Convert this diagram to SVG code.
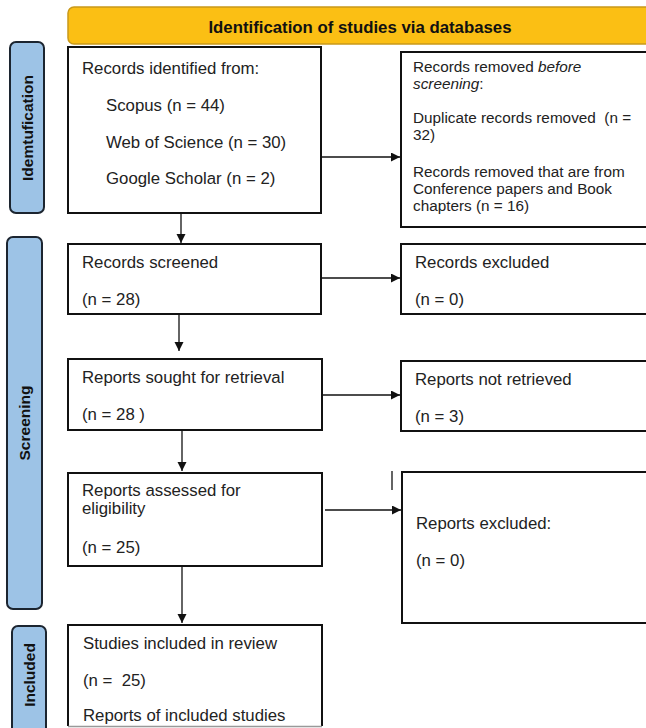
<svg xmlns="http://www.w3.org/2000/svg" width="646" height="728" viewBox="0 0 646 728">
<style>
text{font-family:"Liberation Sans",Arial,sans-serif;fill:#222}
.t{font-size:16.8px}
.s{font-size:15.3px}
.lab{font-size:15.5px;font-weight:bold;fill:#111}
.box{fill:#fff;stroke:#111;stroke-width:2}
.side{fill:#9dc3e6;stroke:#1c2530;stroke-width:2}
.con{stroke:#111;stroke-width:1.3;fill:none}
</style>
<defs>
<marker id="ah" markerUnits="userSpaceOnUse" markerWidth="10" markerHeight="10" refX="9" refY="4.5" orient="auto">
<path d="M0,0 L9,4.5 L0,9 z" fill="#111"/>
</marker>
</defs>
<rect width="646" height="728" fill="#fff"/>
<g id="banner">
<rect x="68" y="7" width="590" height="37" rx="6" fill="#fbbf14" stroke="#c9991a" stroke-width="1.5"/>
<text x="360" y="33" text-anchor="middle" style="font-size:16.8px;font-weight:bold;fill:#111">Identification of studies via databases</text>
</g>
<g id="lab-identification">
<rect class="side" x="10" y="42" width="34" height="171" rx="6"/>
<text class="lab" transform="translate(33,128) rotate(-90)" text-anchor="middle">Idemtufication</text>
</g>
<g id="lab-screening">
<rect class="side" x="7" y="237" width="35" height="372" rx="6"/>
<text class="lab" transform="translate(30,423) rotate(-90)" text-anchor="middle">Screening</text>
</g>
<g id="lab-included">
<rect class="side" x="12" y="626" width="34" height="120" rx="6"/>
<text class="lab" transform="translate(35,675) rotate(-90)" text-anchor="middle">Included</text>
</g>
<g id="n-identified">
<rect class="box" x="68" y="47" width="253" height="166"/>
<text class="t" x="82" y="74">Records identified from:</text>
<text class="t" x="106" y="111">Scopus (n = 44)</text>
<text class="t" x="106" y="148">Web of Science (n = 30)</text>
<text class="t" x="106" y="184">Google Scholar (n = 2)</text>
</g>
<g id="n-removed">
<rect class="box" x="401" y="52" width="260" height="175"/>
<text class="s" x="413" y="72">Records removed <tspan font-style="italic">before</tspan></text>
<text class="s" x="413" y="89"><tspan font-style="italic">screening</tspan>:</text>
<text class="s" x="413" y="123" xml:space="preserve">Duplicate records removed  (n =</text>
<text class="s" x="413" y="140">32)</text>
<text class="s" x="413" y="177">Records removed that are from</text>
<text class="s" x="413" y="194">Conference papers and Book</text>
<text class="s" x="413" y="211">chapters (n = 16)</text>
</g>
<g id="n-screened">
<rect class="box" x="68" y="244" width="253" height="70"/>
<text class="t" x="82" y="268">Records screened</text>
<text class="t" x="82" y="305">(n = 28)</text>
</g>
<g id="n-excluded">
<rect class="box" x="401" y="244" width="260" height="70"/>
<text class="t" x="415" y="268">Records excluded</text>
<text class="t" x="415" y="305">(n = 0)</text>
</g>
<g id="n-sought">
<rect class="box" x="68" y="359" width="254" height="71"/>
<text class="t" x="82" y="383">Reports sought for retrieval</text>
<text class="t" x="82" y="420">(n = 28 )</text>
</g>
<g id="n-notretrieved">
<rect class="box" x="401" y="361" width="260" height="70"/>
<text class="t" x="415" y="385">Reports not retrieved</text>
<text class="t" x="415" y="422">(n = 3)</text>
</g>
<g id="n-assessed">
<rect class="box" x="68" y="473" width="254" height="93"/>
<text class="t" x="82" y="496">Reports assessed for</text>
<text class="t" x="82" y="514">eligibility</text>
<text class="t" x="82" y="553">(n = 25)</text>
</g>
<g id="n-reportsexcluded">
<rect class="box" x="402" y="472" width="260" height="151"/>
<text class="t" x="416" y="529">Reports excluded:</text>
<text class="t" x="416" y="566">(n = 0)</text>
</g>
<g id="n-included">
<path d="M68,726 V625 H322 V726" fill="#fff" stroke="#111" stroke-width="2"/>
<line x1="68" y1="726.5" x2="322" y2="726.5" stroke="#999" stroke-width="1.5"/>
<text class="t" x="83" y="649">Studies included in review</text>
<text class="t" x="83" y="686" xml:space="preserve">(n =  25)</text>
<text class="t" x="83" y="721">Reports of included studies</text>
</g>
<g id="connectors">
<line class="con" x1="321" y1="157" x2="400" y2="157" marker-end="url(#ah)"/>
<line class="con" x1="181" y1="213" x2="181" y2="243" marker-end="url(#ah)"/>
<line class="con" x1="321" y1="278" x2="400" y2="278" marker-end="url(#ah)"/>
<line class="con" x1="179" y1="314" x2="179" y2="351" marker-end="url(#ah)"/>
<line class="con" x1="323" y1="395" x2="400" y2="395" marker-end="url(#ah)"/>
<line class="con" x1="182" y1="430" x2="182" y2="471" marker-end="url(#ah)"/>
<line class="con" x1="325" y1="510" x2="401" y2="510" marker-end="url(#ah)"/>
<line class="con" x1="182" y1="566" x2="182" y2="623" marker-end="url(#ah)"/>
<line class="con" x1="392" y1="471" x2="392" y2="490"/>
</g>
</svg>
